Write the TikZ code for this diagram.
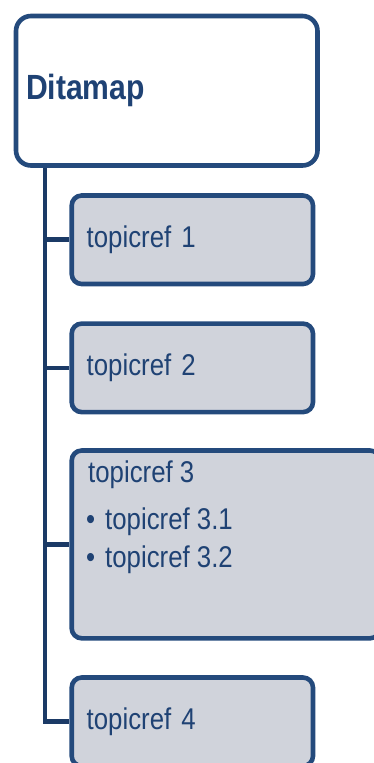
\documentclass[tikz,border=0pt]{standalone}
\usepackage{fontspec}
\setmainfont{Liberation Sans}[FakeStretch=0.86]
\usepackage{tikz}
\usetikzlibrary{positioning}

\definecolor{mapline}{HTML}{244A7C}
\definecolor{mapspine}{HTML}{1B3A66}
\definecolor{maptext}{HTML}{1F4274}
\definecolor{mapfill}{HTML}{D0D3DB}

\begin{document}
\begin{tikzpicture}[
  x=1pt, y=-1pt,
  rootbox/.style={draw=mapline, line width=4.6pt, rounded corners=15pt, fill=white,
    minimum width=301.5pt, minimum height=149.5pt, text width=281.5pt,
    inner xsep=10pt, align=left, text=maptext,
    font=\fontsize{35}{40}\selectfont\bfseries},
  refbox/.style={draw=mapline, line width=4.6pt, rounded corners=10pt, fill=mapfill,
    minimum width=241.3pt, minimum height=88.5pt, text width=211.3pt,
    inner xsep=15pt, align=left, text=maptext,
    font=\fontsize{30}{38}\selectfont},
  link/.style={draw=mapspine, line width=4.6pt}
]
  \useasboundingbox (0,0) rectangle (374,763);

  % tree lines
  \coordinate (spine) at (45,0);

  % boxes
  \node[rootbox] (root) at (166.75,90.75) {Ditamap};
  \node[refbox] (ref1) at (192.35,239.75) {topicref 1};
  \node[refbox] (ref2) at (192.35,367.85) {topicref 2};
  \node[refbox, minimum width=308.3pt, minimum height=187.8pt] (ref3)
    at (225.85,544.4) {};
  \node[refbox] (ref4) at (192.35,721.75) {topicref 4};

  % text of the third box
  \node[anchor=north west, align=left, text=maptext, inner sep=0pt,
    font=\fontsize{30}{38}\selectfont] (ref3text) at (86,461)
    {\hspace{2pt}topicref 3\\[9pt]
     \makebox[19pt][l]{•}topicref 3.1\\
     \makebox[19pt][l]{•}topicref 3.2};

  \draw[link] (root.south -| spine) |- (ref4.west);
  \draw[link] (spine |- ref1.west) -- (ref1.west);
  \draw[link] (spine |- ref2.west) -- (ref2.west);
  \draw[link] (spine |- ref3.west) -- (ref3.west);
\end{tikzpicture}
\end{document}
